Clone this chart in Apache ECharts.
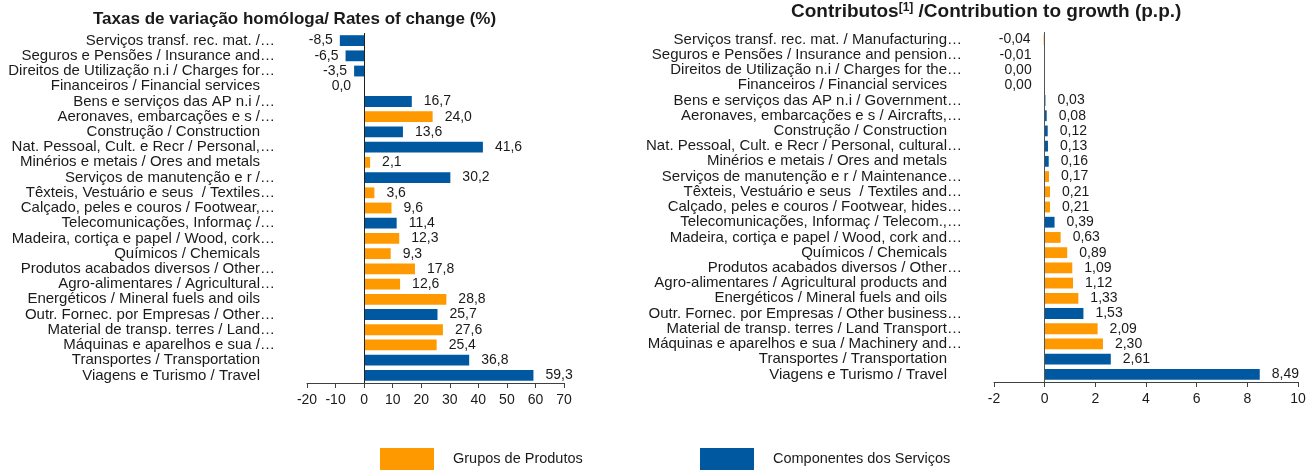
<!DOCTYPE html>
<html>
  <head>
    <meta charset="utf-8" />
    <script src="https://cdn.jsdelivr.net/npm/echarts@6/dist/echarts.min.js"></script>
    <style>
      html,
      body,
      #main {
        width: 100%;
        height: 100%;
        margin: 0;
        background: #fff;
      }
    </style>
  </head>
  <body>
    <div id="main"></div>
    <script>
      // taxas de variação homóloga (%)
      var leftCats = [
        'Serviços transf. rec. mat. /…',
        'Seguros e Pensões / Insurance and…',
        'Direitos de Utilização n.i / Charges for…',
        'Financeiros / Financial services',
        'Bens e serviços das AP n.i /…',
        'Aeronaves, embarcações e s /…',
        'Construção / Construction',
        'Nat. Pessoal, Cult. e Recr / Personal,…',
        'Minérios e metais / Ores and metals',
        'Serviços de manutenção e r /…',
        'Têxteis, Vestuário e seus  / Textiles…',
        'Calçado, peles e couros / Footwear,…',
        'Telecomunicações, Informaç /…',
        'Madeira, cortiça e papel / Wood, cork…',
        'Químicos / Chemicals',
        'Produtos acabados diversos / Other…',
        'Agro-alimentares / Agricultural…',
        'Energéticos / Mineral fuels and oils',
        'Outr. Fornec. por Empresas / Other…',
        'Material de transp. terres / Land…',
        'Máquinas e aparelhos e sua /…',
        'Transportes / Transportation',
        'Viagens e Turismo / Travel'
      ];
      var leftValues = [-8.5, -6.5, -3.5, 0.0, 16.7, 24.0, 13.6, 41.6, 2.1, 30.2, 3.6, 9.6,
        11.4, 12.3, 9.3, 17.8, 12.6, 28.8, 25.7, 27.6, 25.4, 36.8, 59.3];
      // P = produtos, S = serviços
      var leftGroups = ['S', 'S', 'S', 'S', 'S', 'P', 'S', 'S', 'P', 'S', 'P', 'P',
        'S', 'P', 'P', 'P', 'P', 'P', 'S', 'P', 'P', 'S', 'S'];

      // contributos (p.p.)
      var rightCats = [
        'Serviços transf. rec. mat. / Manufacturing…',
        'Seguros e Pensões / Insurance and pension…',
        'Direitos de Utilização n.i / Charges for the…',
        'Financeiros / Financial services',
        'Bens e serviços das AP n.i / Government…',
        'Aeronaves, embarcações e s / Aircrafts,…',
        'Construção / Construction',
        'Nat. Pessoal, Cult. e Recr / Personal, cultural…',
        'Minérios e metais / Ores and metals',
        'Serviços de manutenção e r / Maintenance…',
        'Têxteis, Vestuário e seus  / Textiles and…',
        'Calçado, peles e couros / Footwear, hides…',
        'Telecomunicações, Informaç / Telecom.,…',
        'Madeira, cortiça e papel / Wood, cork and…',
        'Químicos / Chemicals',
        'Produtos acabados diversos / Other…',
        'Agro-alimentares / Agricultural products and',
        'Energéticos / Mineral fuels and oils',
        'Outr. Fornec. por Empresas / Other business…',
        'Material de transp. terres / Land Transport…',
        'Máquinas e aparelhos e sua / Machinery and…',
        'Transportes / Transportation',
        'Viagens e Turismo / Travel'
      ];
      var rightValues = [-0.04, -0.01, 0.0, 0.0, 0.03, 0.08, 0.12, 0.13, 0.16, 0.17, 0.21, 0.21,
        0.39, 0.63, 0.89, 1.09, 1.12, 1.33, 1.53, 2.09, 2.3, 2.61, 8.49];
      var rightGroups = ['P', 'P', 'S', 'P', 'S', 'S', 'S', 'S', 'S', 'P', 'P', 'P',
        'S', 'P', 'P', 'P', 'P', 'P', 'S', 'P', 'P', 'S', 'S'];

      var leftTicks = { min: -20, max: 70, interval: 10 };
      var rightTicks = { min: -2, max: 10, interval: 2 };

      var ORANGE = '#FF9900';
      var BLUE = '#0058A0';
      var FONT = "'Liberation Sans', Arial, sans-serif";
      var TXT = '#1a1a1a';

      var chart = echarts.init(document.getElementById('main'));

      function fmt(v, d) {
        return v.toFixed(d).replace('.', ',');
      }

      function barSeries(name, color, key, values, groups, idx, decimals, negDist) {
        return {
          name: name,
          type: 'bar',
          xAxisIndex: idx,
          yAxisIndex: idx,
          barGap: '-100%',
          barCategoryGap: '29%',
          itemStyle: { color: color },
          label: {
            show: true,
            fontSize: 14,
            fontFamily: FONT,
            color: TXT,
            formatter: function (p) {
              return fmt(p.value, decimals);
            }
          },
          data: values.map(function (v, i) {
            if (groups[i] !== key) return '-';
            return {
              value: v,
              label: {
                position: v <= 0 ? 'left' : 'right',
                distance: v < 0 ? negDist : v === 0 ? 13 : 12
              }
            };
          })
        };
      }

      function zeroLine(color) {
        return {
          silent: true,
          symbol: ['none', 'none'],
          label: { show: false },
          lineStyle: { color: color, type: 'solid', width: 1 },
          data: [{ xAxis: 0 }]
        };
      }

      function catAxis(cats, idx) {
        return {
          type: 'category',
          gridIndex: idx,
          inverse: true,
          data: cats,
          axisLine: { show: false },
          axisTick: { show: false },
          axisLabel: {
            interval: 0,
            margin: 32,
            fontSize: 15,
            fontFamily: FONT,
            color: TXT,
            formatter: function (v) {
              return v.slice(-1) === '…' ? v : '{p|' + v + '}';
            },
            rich: {
              p: { padding: [0, 15, 0, 0], fontSize: 15, fontFamily: FONT, color: TXT }
            }
          }
        };
      }

      function valAxis(t, idx) {
        return {
          type: 'value',
          gridIndex: idx,
          min: t.min,
          max: t.max,
          interval: t.interval,
          splitLine: { show: false },
          axisLine: { show: true, onZero: false, lineStyle: { color: '#404040' } },
          axisTick: { show: true, length: 5, lineStyle: { color: '#404040' } },
          axisLabel: { margin: 10, fontSize: 14, fontFamily: FONT, color: TXT }
        };
      }

      var s1 = barSeries('Grupos de Produtos', ORANGE, 'P', leftValues, leftGroups, 0, 1, 7);
      var s2 = barSeries('Componentes dos Serviços', BLUE, 'S', leftValues, leftGroups, 0, 1, 7);
      var s3 = barSeries('Grupos de Produtos', ORANGE, 'P', rightValues, rightGroups, 1, 2, 13);
      var s4 = barSeries('Componentes dos Serviços', BLUE, 'S', rightValues, rightGroups, 1, 2, 13);
      s1.markLine = zeroLine('#222');
      s3.markLine = zeroLine('#555');

      var option = {
        backgroundColor: '#fff',
        animation: false,
        title: [
          {
            text: 'Taxas de variação homóloga/ Rates of change (%)',
            left: 93,
            top: 11,
            padding: 0,
            textStyle: { fontSize: 17, fontWeight: 'bold', fontFamily: FONT, color: TXT }
          },
          {
            text: '{a|Contributos}{s|[1]}{a| /Contribution to growth (p.p.)}',
            left: 791,
            top: 2,
            padding: 0,
            textStyle: {
              fontSize: 19,
              fontWeight: 'bold',
              fontFamily: FONT,
              color: TXT,
              rich: {
                a: { fontSize: 19, fontWeight: 'bold', fontFamily: FONT, color: TXT },
                s: {
                  fontSize: 12,
                  fontWeight: 'bold',
                  fontFamily: FONT,
                  color: TXT,
                  verticalAlign: 'top',
                  padding: [0, 0, 8, 0]
                }
              }
            }
          }
        ],
        legend: [
          {
            data: ['Grupos de Produtos'],
            left: 380,
            top: 448,
            padding: 0,
            icon: 'rect',
            itemWidth: 54,
            itemHeight: 22,
            selectedMode: false,
            textStyle: { fontSize: 14.5, fontFamily: FONT, color: TXT, padding: [3, 0, 0, 14] }
          },
          {
            data: ['Componentes dos Serviços'],
            left: 700,
            top: 448,
            padding: 0,
            icon: 'rect',
            itemWidth: 54,
            itemHeight: 22,
            selectedMode: false,
            textStyle: { fontSize: 14.5, fontFamily: FONT, color: TXT, padding: [3, 0, 0, 14] }
          }
        ],
        grid: [
          { left: 307, width: 257, top: 33, height: 350 },
          { left: 994, width: 304, top: 32, height: 350 }
        ],
        xAxis: [valAxis(leftTicks, 0), valAxis(rightTicks, 1)],
        yAxis: [catAxis(leftCats, 0), catAxis(rightCats, 1)],
        series: [s1, s2, s3, s4]
      };

      chart.setOption(option);

      window.onresize = function () {
        chart.resize();
      };
    </script>
  </body>
</html>
